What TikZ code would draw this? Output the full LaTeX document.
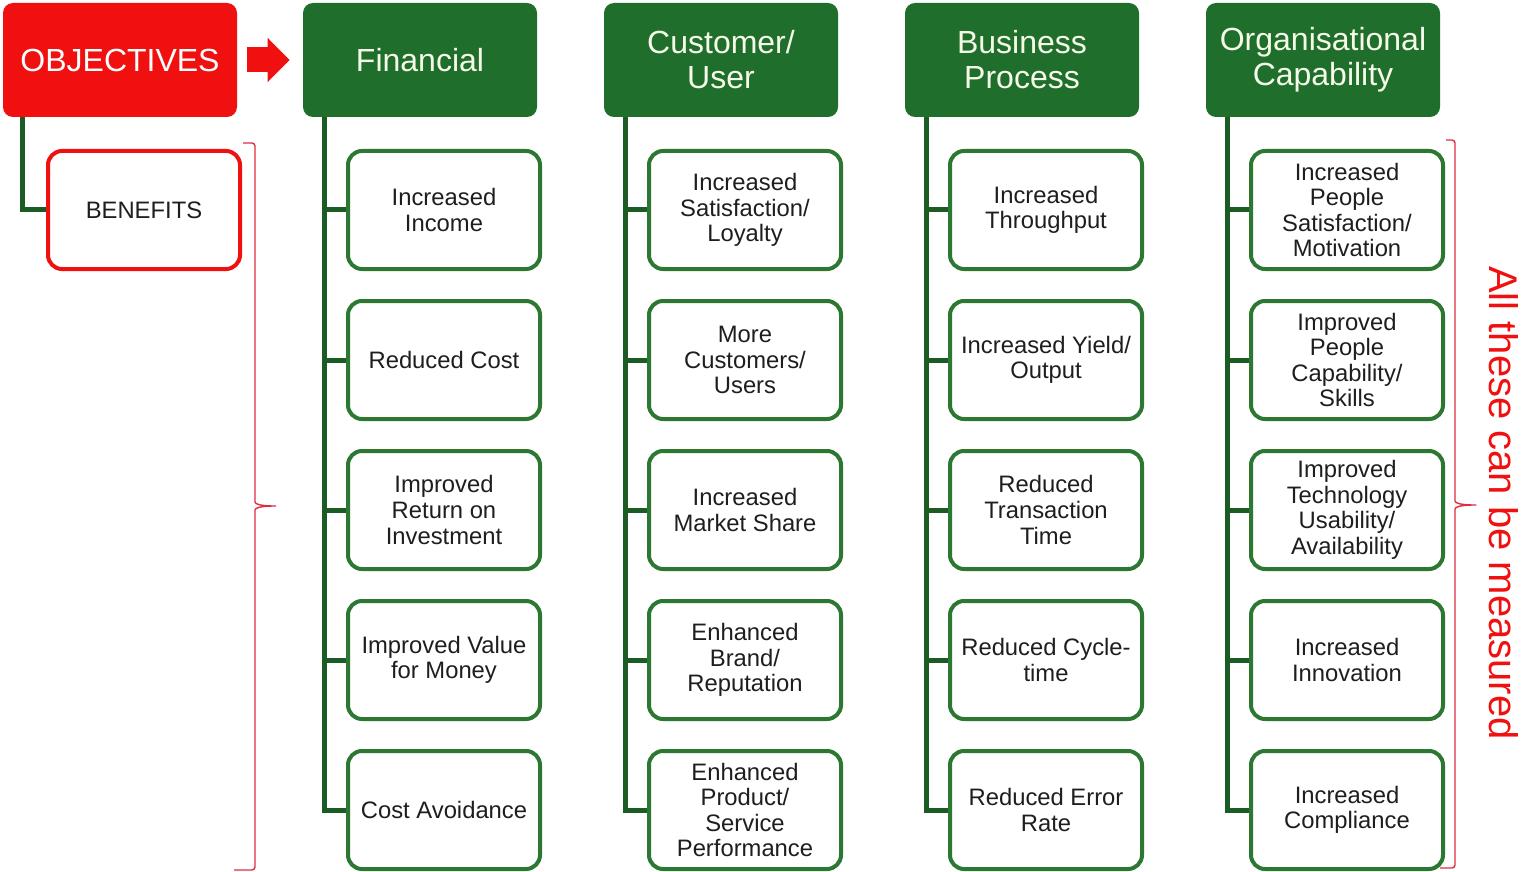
\documentclass[tikz,border=0pt]{standalone}
\usepackage{fontspec}
\setmainfont{Liberation Sans}
\usetikzlibrary{arrows.meta}

\definecolor{objred}{RGB}{240,16,16}
\definecolor{hdrgreen}{RGB}{32,110,44}
\definecolor{boxgreen}{RGB}{44,120,50}
\definecolor{trunkgreen}{RGB}{26,92,36}
\definecolor{hdrtext}{RGB}{246,250,232}
\definecolor{bodytext}{RGB}{30,30,30}
\definecolor{bracered}{RGB}{222,45,65}

\tikzset{
	hdr/.style={fill=hdrgreen,rounded corners=5pt,minimum width=117pt,minimum height=57pt,
		text=hdrtext,align=center,font=\fontsize{16}{17.5}\selectfont},
	kid/.style={draw=boxgreen,line width=2pt,fill=white,rounded corners=7pt,minimum width=96pt,
		minimum height=59pt,text=bodytext,align=center,font=\fontsize{11.9}{12.8}\selectfont,inner sep=2pt},
	trunk/.style={trunkgreen,line width=2.5pt},
	brc/.style={bracered,line width=0.7pt,rounded corners=1.5pt}
}

\begin{document}
\begin{tikzpicture}[x=0.5pt,y=-0.5pt]
	\useasboundingbox (0,0) rectangle (1522,872);
	
	%HEADERS
	\node[hdr,fill=objred,text=white] (obj) at (120,60) {OBJECTIVES};
	\node[hdr] (fin) at (420,60) {Financial};
	\node[hdr] (cus) at (721,60) {Customer/\\User};
	\node[hdr] (bus) at (1022,60) {Business\\Process};
	\node[hdr] (org) at (1323,60) {Organisational\\Capability};
	
	\draw[objred,line width=12.5pt,-{Triangle[length=11pt,width=21.5pt]},shorten <=5pt,shorten >=6.5pt] (obj) -- (fin);
	
	%BOXES
	\node[kid,draw=objred] (ben) at (144,210) {BENEFITS};
	%
	\node[kid] (fin1) at (444,210) {Increased\\Income};
	\node[kid] (fin2) at (444,360) {Reduced Cost};
	\node[kid] (fin3) at (444,510) {Improved\\Return on\\Investment};
	\node[kid] (fin4) at (444,660) {Improved Value\\for Money};
	\node[kid] (fin5) at (444,810) {Cost Avoidance};
	%
	\node[kid] (cus1) at (745,210) {Increased\\Satisfaction/\\Loyalty};
	\node[kid] (cus2) at (745,360) {More\\Customers/\\Users};
	\node[kid] (cus3) at (745,510) {Increased\\Market Share};
	\node[kid] (cus4) at (745,660) {Enhanced\\Brand/\\Reputation};
	\node[kid] (cus5) at (745,810) {Enhanced\\Product/\\Service\\Performance};
	%
	\node[kid] (bus1) at (1046,210) {Increased\\Throughput};
	\node[kid] (bus2) at (1046,360) {Increased Yield/\\Output};
	\node[kid] (bus3) at (1046,510) {Reduced\\Transaction\\Time};
	\node[kid] (bus4) at (1046,660) {Reduced Cycle-\\time};
	\node[kid] (bus5) at (1046,810) {Reduced Error\\Rate};
	%
	\node[kid] (org1) at (1347,210) {Increased\\People\\Satisfaction/\\Motivation};
	\node[kid] (org2) at (1347,360) {Improved\\People\\Capability/\\Skills};
	\node[kid] (org3) at (1347,510) {Improved\\Technology\\Usability/\\Availability};
	\node[kid] (org4) at (1347,660) {Increased\\Innovation};
	\node[kid] (org5) at (1347,810) {Increased\\Compliance};
	
	%TRUNKS
	\coordinate (objT) at ([xshift=10pt]obj.south west);
	\coordinate (finT) at ([xshift=11pt]fin.south west);
	\coordinate (cusT) at ([xshift=11pt]cus.south west);
	\coordinate (busT) at ([xshift=11pt]bus.south west);
	\coordinate (orgT) at ([xshift=11pt]org.south west);
	\draw[trunk] (objT) |- (ben.west);
	\draw[trunk] (finT) |- (fin5.west) (fin1.west) -- (fin1.west -| finT) (fin2.west) -- (fin2.west -| finT)
		(fin3.west) -- (fin3.west -| finT) (fin4.west) -- (fin4.west -| finT);
	\draw[trunk] (cusT) |- (cus5.west) (cus1.west) -- (cus1.west -| cusT) (cus2.west) -- (cus2.west -| cusT)
		(cus3.west) -- (cus3.west -| cusT) (cus4.west) -- (cus4.west -| cusT);
	\draw[trunk] (busT) |- (bus5.west) (bus1.west) -- (bus1.west -| busT) (bus2.west) -- (bus2.west -| busT)
		(bus3.west) -- (bus3.west -| busT) (bus4.west) -- (bus4.west -| busT);
	\draw[trunk] (orgT) |- (org5.west) (org1.west) -- (org1.west -| orgT) (org2.west) -- (org2.west -| orgT)
		(org3.west) -- (org3.west -| orgT) (org4.west) -- (org4.west -| orgT);
	
	%BRACES
	\draw[brc] (243,143) -- (255,143) -- (255,499) .. controls (255,504) and (260,506) .. (278,506)
		.. controls (260,506) and (255,508) .. (255,513) -- (255,870) -- (234,870);
	\draw[brc] (1446,140) -- (1455,140) -- (1455,498) .. controls (1455,503) and (1460,505) .. (1478,505)
		.. controls (1460,505) and (1455,507) .. (1455,512) -- (1455,868) -- (1440,868);
	\node[rotate=-90,text=objred,font=\fontsize{20}{24}\selectfont] (meas) at (1504,503) {All these can be measured};
\end{tikzpicture}
\end{document}
